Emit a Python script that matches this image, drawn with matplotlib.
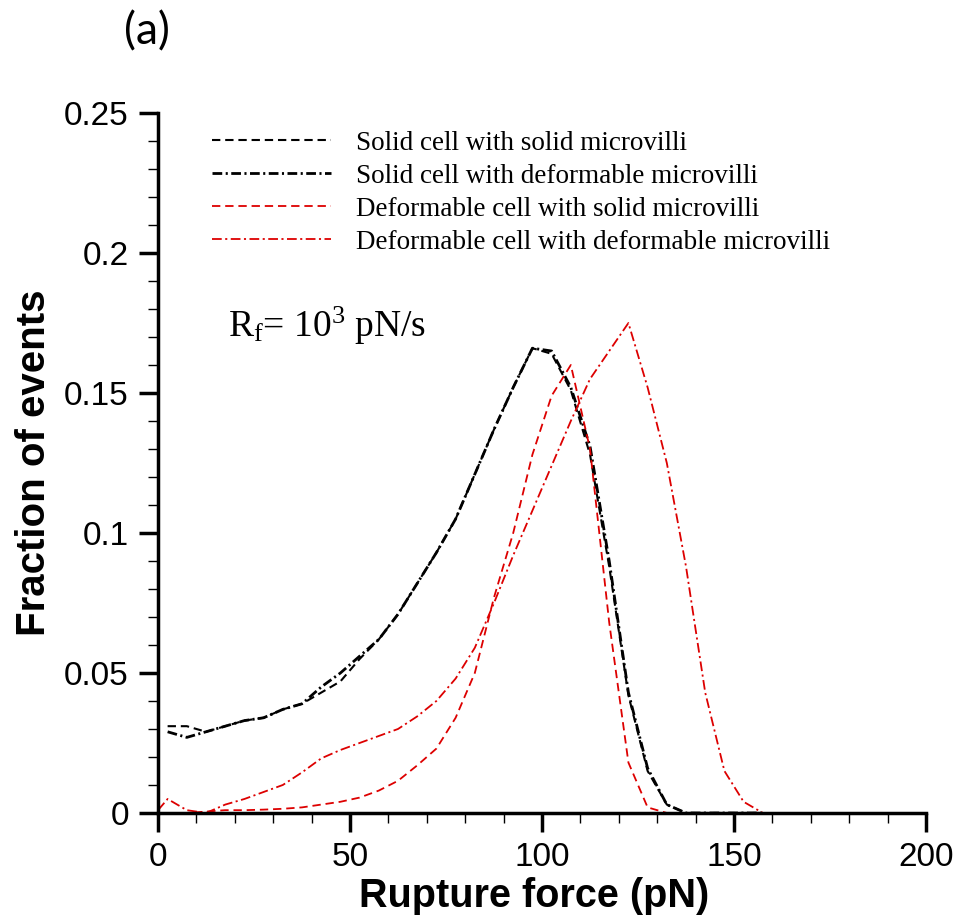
import matplotlib
matplotlib.use("Agg")
import matplotlib.pyplot as plt
from matplotlib.ticker import MultipleLocator, FuncFormatter

plt.rcParams['lines.scale_dashes'] = False
plt.rcParams['mathtext.fontset'] = 'custom'
plt.rcParams['mathtext.rm'] = 'Liberation Serif'
plt.rcParams['mathtext.it'] = 'Liberation Serif'

# bin centres (pN)
force = [2.5, 7.5, 12.5, 17.5, 22.5, 27.5, 32.5, 37.5, 42.5, 47.5,
         52.5, 57.5, 62.5, 67.5, 72.5, 77.5, 82.5, 87.5, 92.5, 97.5,
         102.5, 107.5, 112.5, 117.5, 122.5, 127.5, 132.5, 137.5, 142.5, 147.5,
         152.5, 157.5]

solid_solid = [0.031, 0.031, 0.029, 0.031, 0.033, 0.034, 0.037, 0.039, 0.043, 0.047,
               0.055, 0.062, 0.071, 0.082, 0.093, 0.105, 0.121, 0.137, 0.152, 0.166,
               0.164, 0.151, 0.128, 0.088, 0.042, 0.015, 0.003, 0.0, 0.0, 0.0,
               0.0, 0.0]

solid_deform = [0.029, 0.027, 0.029, 0.031, 0.033, 0.034, 0.037, 0.039, 0.045, 0.050,
                0.056, 0.062, 0.071, 0.082, 0.093, 0.105, 0.121, 0.137, 0.152, 0.166,
                0.165, 0.152, 0.131, 0.090, 0.043, 0.016, 0.003, 0.0, 0.0, 0.0,
                0.0, 0.0]

deform_solid = [0.0, 0.0, 0.0005, 0.001, 0.001, 0.0012, 0.0015, 0.002, 0.003, 0.004,
                0.0055, 0.008, 0.0115, 0.017, 0.023, 0.034, 0.050, 0.077, 0.100, 0.128,
                0.149, 0.160, 0.130, 0.068, 0.018, 0.002, 0.0, 0.0, 0.0, 0.0,
                0.0, 0.0]

deform_deform_x = [0.0] + force
deform_deform = [0.001, 0.005, 0.001, 0.0, 0.003, 0.005, 0.0075, 0.010, 0.0145, 0.0195,
                 0.0225, 0.025, 0.0275, 0.030, 0.0345, 0.040, 0.048, 0.059, 0.075, 0.092,
                 0.108, 0.124, 0.140, 0.155, 0.165, 0.175, 0.152, 0.125, 0.088, 0.043,
                 0.015, 0.004, 0.0]

labels = ['Solid cell with solid microvilli',
          'Solid cell with deformable microvilli',
          'Deformable cell with solid microvilli',
          'Deformable cell with deformable microvilli']

red = '#dd0000'
dashed = (0, (6, 3.5))
dashdot = (0, (7, 2.5, 1.5, 2.5))

fig = plt.figure(figsize=(9.6, 9.18), dpi=100)
ax = fig.add_axes([0.1646, 0.1144, 0.8, 0.7625])

ax.plot(force, solid_solid, color='black', linestyle=dashed, lw=1.5, label=labels[0])
ax.plot(force, solid_deform, color='black', linestyle=dashdot, lw=2.0, label=labels[1])
ax.plot(force, deform_solid, color=red, linestyle=dashed, lw=1.3, label=labels[2])
ax.plot(deform_deform_x, deform_deform, color=red, linestyle=dashdot, lw=1.3, label=labels[3])

ax.set_xlim(0, 200)
ax.set_ylim(0, 0.25)
for s in ['top', 'right']:
    ax.spines[s].set_visible(False)
for s in ['left', 'bottom']:
    ax.spines[s].set_linewidth(2.5)

ax.xaxis.set_major_locator(MultipleLocator(50))
ax.xaxis.set_minor_locator(MultipleLocator(10))
ax.yaxis.set_major_locator(MultipleLocator(0.05))
ax.yaxis.set_minor_locator(MultipleLocator(0.01))
ax.xaxis.set_major_formatter(FuncFormatter(lambda v, p: f'{v:g}'))
ax.yaxis.set_major_formatter(FuncFormatter(lambda v, p: f'{round(v, 2):g}'))
ax.tick_params(which='major', direction='out', length=14, width=2.5, pad=7,
               labelsize=24)
ax.tick_params(which='minor', direction='out', length=7, width=1.0)
for lab in ax.get_xticklabels() + ax.get_yticklabels():
    lab.set_fontfamily('Liberation Sans')

ax.set_xlabel('Rupture force (pN)', fontsize=28.5, fontweight='bold',
              fontfamily='Liberation Sans')
ax.xaxis.set_label_coords(0.49, -0.0914)
ax.set_ylabel('Fraction of events', fontsize=29, fontweight='bold',
              fontfamily='Liberation Sans', labelpad=8)

ax.text(18.2, 0.170, r'R$_\mathregular{f}$= 10$^\mathregular{3}$ pN/s',
        fontsize=27, fontfamily='Liberation Serif')

leg = ax.legend(loc='upper left', bbox_to_anchor=(0.0703, 0.975), frameon=False,
                prop={'family': 'Liberation Serif', 'size': 19.5},
                handlelength=4.4, handletextpad=0.9, labelspacing=0.3,
                borderpad=0, borderaxespad=0)

fig.text(0.153, 0.965, '(a)', fontsize=32, fontfamily='Lato', ha='center', va='center')

fig.savefig('out.png', dpi=100)
